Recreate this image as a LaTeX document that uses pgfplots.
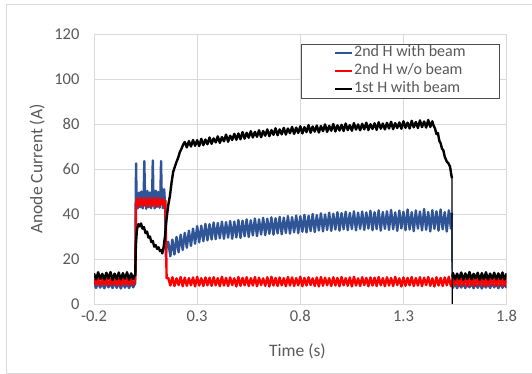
\documentclass[border=0pt]{standalone}
\usepackage{fontspec}
\setmainfont{Carlito}
\usepackage{pgfplots}
\pgfplotsset{compat=1.18}
\definecolor{exblue}{RGB}{47,85,151}
\definecolor{gridgray}{RGB}{217,217,217}
\definecolor{txtgray}{RGB}{89,89,89}
\begin{document}
\begin{tikzpicture}
\path[use as bounding box] (0,0) rectangle (532pt,374pt);
\draw[gridgray, line width=0.8pt] (6pt,0.5pt) rectangle (545pt,370pt);
\begin{axis}[
 at={(94pt,70pt)}, anchor=south west,
 scale only axis, width=412.6pt, height=270pt,
 xmin=-0.2, xmax=1.8, ymin=0, ymax=120,
 xtick={-0.2,0.3,0.8,1.3,1.8}, ytick={0,20,...,120},
 grid=major, major grid style={gridgray, line width=0.8pt},
 axis line style={gridgray, line width=0.8pt},
 major tick length=0pt,
 /pgf/number format/assume math mode=true,
 tick label style={font=\fontsize{16.5}{19}\selectfont, text=txtgray},
 x tick label style={/pgf/number format/.cd, fixed, fixed zerofill, precision=1, /tikz/.cd},
 y tick label style={xshift=-11pt},
 x tick label style={yshift=-3pt},
 xlabel={Time (s)}, ylabel={Anode Current (A)},
 label style={font=\fontsize{17.5}{20}\selectfont, text=txtgray},
 xlabel style={at={(axis description cs:0.493,-0.1767)}, anchor=center},
 ylabel style={at={(axis description cs:-0.1374,0.5)}, anchor=center},
 legend cell align=left,
 legend image code/.code={\draw[#1, line width=2pt, line cap=butt] (0pt,0pt) -- (17pt,0pt);},
 legend style={at={(axis description cs:0.5024,0.963)}, anchor=north west,
   draw=black!70, line width=0.8pt, fill=white,
   font=\fontsize{16}{18}\selectfont,
   inner xsep=32.5pt, inner ysep=0pt, row sep=0pt, column sep=0pt,
   nodes={inner xsep=1pt, inner ysep=0pt, text height=12.5pt, text depth=5.5pt}},
]
% 2nd H with beam
\addplot[draw=exblue, line width=2.4pt, line join=round, mark=none] coordinates {
(-0.20,9.4)(-0.19,7.1)(-0.18,9.6)(-0.17,7.3)(-0.16,9.2)(-0.15,7.0)(-0.14,9.5)(-0.13,7.4)(-0.12,9.3)(-0.11,7.1)
(-0.10,9.7)(-0.09,7.2)(-0.08,9.4)(-0.07,6.9)(-0.06,9.5)(-0.05,7.3)(-0.04,9.2)(-0.03,7.1)(-0.02,9.6)(-0.01,7.4)(0.00,9.3)
(0.002,44)(0.004,62.5)(0.006,48)(0.012,42.5)(0.018,49.5)(0.024,43)(0.030,50)(0.036,42.5)(0.041,49)(0.044,63.5)
(0.047,48)(0.053,42.3)(0.059,50.2)(0.065,43)(0.071,49.6)(0.077,42.6)(0.082,49)(0.085,63.8)(0.088,48)(0.094,42.5)
(0.100,50.3)(0.106,43.2)(0.112,49.8)(0.118,42.8)(0.122,49)(0.125,63.5)(0.128,49)(0.134,42.6)(0.140,51)(0.145,43)
(0.148,21)(0.152,27)
(0.16,27.6)(0.17,21.2)(0.18,28.6)(0.19,22.0)(0.20,29.8)(0.21,23.0)(0.22,30.8)(0.23,24.0)(0.24,31.6)(0.25,25.0)
(0.26,32.6)(0.27,25.8)(0.28,33.5)(0.29,26.8)(0.30,34.6)(0.31,27.4)(0.32,34.8)(0.33,27.9)(0.34,35.6)(0.35,28.3)
(0.36,35.5)(0.37,28.7)(0.38,36.2)(0.39,28.8)(0.40,36.0)(0.41,29.2)(0.42,36.6)(0.43,29.0)(0.44,36.4)(0.45,29.5)
(0.46,36.9)(0.47,29.0)(0.48,36.6)(0.49,29.6)(0.50,37.3)(0.51,29.4)(0.52,37.0)(0.53,30.1)(0.54,37.6)(0.55,29.8)
(0.56,37.2)(0.57,30.5)(0.58,38.0)(0.59,30.2)(0.60,37.6)(0.61,30.9)(0.62,38.3)(0.63,30.6)(0.64,37.9)(0.65,31.2)
(0.66,38.5)(0.67,30.8)(0.68,38.1)(0.69,31.4)(0.70,38.7)(0.71,31.0)(0.72,38.4)(0.73,31.6)(0.74,39.1)(0.75,31.3)
(0.76,38.6)(0.77,31.9)(0.78,39.3)(0.79,31.5)(0.80,39.0)(0.81,32.1)(0.82,39.6)(0.83,31.8)(0.84,39.2)(0.85,32.4)
(0.86,40.0)(0.87,32.0)(0.88,39.5)(0.89,32.7)(0.90,40.3)(0.91,32.3)(0.92,39.8)(0.93,32.9)(0.94,40.6)(0.95,32.5)
(0.96,40.1)(0.97,33.1)(0.98,40.8)(0.99,32.6)(1.00,40.4)(1.01,33.2)(1.02,41.0)(1.03,32.8)(1.04,40.5)(1.05,33.3)
(1.06,41.2)(1.07,32.7)(1.08,40.6)(1.09,33.4)(1.10,41.1)(1.11,32.9)(1.12,40.7)(1.13,33.5)(1.14,41.4)(1.15,32.8)
(1.16,40.8)(1.17,33.3)(1.18,41.6)(1.19,32.6)(1.20,40.9)(1.21,33.4)(1.22,41.2)(1.23,32.9)(1.24,41.8)(1.25,33.2)
(1.26,40.7)(1.27,32.5)(1.28,41.5)(1.29,33.6)(1.30,41.0)(1.31,32.8)(1.32,42.0)(1.33,33.1)(1.34,40.8)(1.35,32.4)
(1.36,41.6)(1.37,33.5)(1.38,41.1)(1.39,32.7)(1.40,42.2)(1.41,33.0)(1.42,40.9)(1.43,32.3)(1.44,41.7)(1.45,33.4)
(1.46,41.2)(1.47,32.6)(1.48,42.0)(1.49,33.2)(1.50,40.8)(1.51,32.2)(1.52,41.6)(1.53,33.5)(1.535,40.5)
};
\addlegendentry{\textcolor{txtgray}{2nd H with beam}}
\addplot[forget plot, draw=exblue, line width=1.2pt, mark=none] coordinates {(1.535,40.5)(1.536,9.0)};
\addplot[forget plot, draw=exblue, line width=2.4pt, line join=round, mark=none] coordinates {
(1.536,9.0)(1.54,7.2)(1.55,9.4)(1.56,7.0)(1.57,9.6)(1.58,7.3)(1.59,9.2)(1.60,7.1)(1.61,9.5)(1.62,7.4)(1.63,9.3)
(1.64,7.0)(1.65,9.7)(1.66,7.2)(1.67,9.4)(1.68,6.9)(1.69,9.5)(1.70,7.3)(1.71,9.2)(1.72,7.1)(1.73,9.6)
(1.74,7.4)(1.75,9.3)(1.76,7.0)(1.77,9.5)(1.78,7.2)(1.79,9.4)(1.80,7.1)
};
% 2nd H w/o beam
\addplot[draw=red, line width=2.4pt, line join=round, mark=none] coordinates {
(-0.20,11.2)(-0.19,8.5)(-0.18,11.5)(-0.17,8.3)(-0.16,11.1)(-0.15,8.6)(-0.14,11.4)(-0.13,8.2)(-0.12,11.3)(-0.11,8.5)
(-0.10,11.6)(-0.09,8.4)(-0.08,11.2)(-0.07,8.1)(-0.06,11.5)(-0.05,8.6)(-0.04,11.1)(-0.03,8.3)(-0.02,11.4)(-0.01,8.5)(0.00,11.0)
(0.004,44)(0.01,47.0)(0.02,43.4)(0.03,47.2)(0.04,43.6)(0.05,46.9)(0.06,43.3)(0.07,47.3)(0.08,43.5)(0.09,47.0)
(0.10,43.2)(0.11,47.2)(0.12,43.6)(0.13,46.8)(0.14,43.4)(0.146,46)(0.152,11.5)
(0.16,11.6)(0.17,8.2)(0.18,11.9)(0.19,8.0)(0.20,11.4)(0.21,8.4)(0.22,12.0)(0.23,7.9)(0.24,11.7)(0.25,8.1)
(0.26,11.5)(0.27,8.3)(0.28,11.8)(0.29,7.8)(0.30,12.1)(0.31,8.2)(0.32,11.5)(0.33,8.0)(0.34,11.8)(0.35,8.3)
(0.36,11.7)(0.37,8.1)(0.38,11.9)(0.39,8.3)(0.40,11.5)(0.41,7.9)(0.42,12.1)(0.43,8.2)(0.44,11.6)(0.45,8.0)
(0.46,11.8)(0.47,8.4)(0.48,11.4)(0.49,7.8)(0.50,12.0)(0.51,8.1)(0.52,11.6)(0.53,8.3)(0.54,11.9)(0.55,8.0)
(0.56,11.5)(0.57,8.2)(0.58,12.0)(0.59,7.9)(0.60,11.7)(0.61,8.4)(0.62,11.4)(0.63,8.1)(0.64,11.9)(0.65,7.8)
(0.66,12.1)(0.67,8.2)(0.68,11.6)(0.69,8.0)(0.70,11.8)(0.71,8.3)(0.72,11.5)(0.73,7.9)(0.74,12.0)(0.75,8.2)
(0.76,11.8)(0.77,8.0)(0.78,11.5)(0.79,8.3)(0.80,12.1)(0.81,7.9)(0.82,11.6)(0.83,8.2)(0.84,11.9)(0.85,8.4)
(0.86,11.4)(0.87,8.0)(0.88,11.8)(0.89,7.8)(0.90,12.0)(0.91,8.1)(0.92,11.7)(0.93,8.3)(0.94,11.5)(0.95,8.0)
(0.96,11.9)(0.97,8.2)(0.98,11.6)(0.99,7.9)(1.00,12.0)(1.01,8.3)(1.02,11.5)(1.03,8.1)(1.04,11.8)(1.05,7.8)
(1.06,12.1)(1.07,8.2)(1.08,11.4)(1.09,8.0)(1.10,11.9)(1.11,8.4)(1.12,11.6)(1.13,7.9)(1.14,11.8)(1.15,8.2)
(1.16,11.7)(1.17,8.0)(1.18,12.0)(1.19,8.3)(1.20,11.5)(1.21,7.9)(1.22,11.9)(1.23,8.2)(1.24,11.6)(1.25,8.0)
(1.26,12.1)(1.27,8.4)(1.28,11.4)(1.29,7.8)(1.30,11.8)(1.31,8.1)(1.32,11.6)(1.33,8.3)(1.34,12.0)(1.35,8.0)
(1.36,11.5)(1.37,8.2)(1.38,11.9)(1.39,7.9)(1.40,11.7)(1.41,8.4)(1.42,12.0)(1.43,8.1)(1.44,11.4)(1.45,7.8)
(1.46,11.9)(1.47,8.2)(1.48,11.6)(1.49,8.0)(1.50,11.8)(1.51,8.3)(1.52,12.1)(1.53,7.9)(1.54,11.5)(1.55,8.2)
(1.56,11.8)(1.57,8.0)(1.58,11.5)(1.59,8.3)(1.60,12.0)(1.61,7.9)(1.62,11.7)(1.63,8.2)(1.64,11.4)(1.65,8.0)
(1.66,11.9)(1.67,8.4)(1.68,11.6)(1.69,7.8)(1.70,12.0)(1.71,8.1)(1.72,11.5)(1.73,8.3)(1.74,11.8)(1.75,8.0)
(1.76,11.6)(1.77,8.2)(1.78,11.9)(1.79,8.0)(1.80,11.4)
};
\addlegendentry{\textcolor{txtgray}{2nd H w/o beam}}
% 1st H with beam
\addplot[draw=black, line width=2.4pt, line join=round, mark=none] coordinates {
(-0.20,13.6)(-0.19,10.9)(-0.18,14.1)(-0.17,11.2)(-0.16,13.4)(-0.15,10.8)(-0.14,13.9)(-0.13,11.3)(-0.12,14.2)(-0.11,10.7)
(-0.10,13.5)(-0.09,11.0)(-0.08,14.0)(-0.07,10.9)(-0.06,13.7)(-0.05,11.2)(-0.04,14.1)(-0.03,10.8)(-0.02,13.6)(-0.01,11.1)(0.00,13.3)
(0.003,26)(0.008,33)(0.015,35.5)(0.022,34.5)(0.028,35.8)(0.035,33.5)(0.042,34.2)(0.050,31.5)(0.057,32.2)(0.064,29.5)
(0.071,30)(0.078,27.5)(0.085,28)(0.092,25.5)(0.099,26.2)(0.106,24.5)(0.113,25.2)(0.120,23.5)(0.127,24)(0.131,22.5)
(0.137,25)(0.144,30)(0.152,38)(0.160,44)(0.168,48)(0.176,54)(0.184,58.8)(0.192,61)(0.200,63.2)(0.208,65)
(0.216,67.5)(0.224,69)(0.232,70.8)
(0.24,72.0)(0.25,69.6)(0.26,72.4)(0.27,70.0)(0.28,72.9)(0.29,70.3)(0.30,72.8)(0.31,70.2)(0.32,73.4)(0.33,70.6)
(0.34,73.1)(0.35,71.0)(0.36,74.0)(0.37,71.2)(0.38,73.6)(0.39,71.8)(0.40,74.5)(0.41,71.6)(0.42,74.2)(0.43,72.3)
(0.44,75.3)(0.45,72.1)(0.46,74.8)(0.47,72.9)(0.48,75.6)(0.49,73.0)(0.50,75.8)(0.51,73.2)(0.52,76.4)(0.53,73.5)
(0.54,76.1)(0.55,73.9)(0.56,76.8)(0.57,74.0)(0.58,76.5)(0.59,74.3)(0.60,77.2)(0.61,74.1)(0.62,76.9)(0.63,74.8)
(0.64,77.6)(0.65,74.6)(0.66,77.3)(0.67,75.2)(0.68,78.1)(0.69,75.0)(0.70,77.6)(0.71,75.4)(0.72,78.3)(0.73,75.3)
(0.74,78.0)(0.75,75.9)(0.76,78.7)(0.77,75.6)(0.78,78.4)(0.79,76.0)(0.80,79.0)(0.81,75.8)(0.82,78.6)(0.83,76.4)
(0.84,79.5)(0.85,76.1)(0.86,78.9)(0.87,76.6)(0.88,79.3)(0.89,76.2)(0.90,79.1)(0.91,76.8)(0.92,79.8)(0.93,76.5)
(0.94,79.2)(0.95,77.0)(0.96,80.0)(0.97,76.7)(0.98,79.4)(0.99,77.1)(1.00,79.6)(1.01,76.9)(1.02,80.2)(1.03,77.3)
(1.04,79.5)(1.05,77.0)(1.06,80.4)(1.07,77.5)(1.08,79.8)(1.09,77.2)(1.10,80.1)(1.11,77.6)(1.12,80.6)(1.13,77.3)
(1.14,79.9)(1.15,77.8)(1.16,80.3)(1.17,77.4)(1.18,80.8)(1.19,77.9)(1.20,80.2)(1.21,77.6)(1.22,80.5)(1.23,78.0)
(1.24,81.0)(1.25,77.7)(1.26,80.4)(1.27,78.2)(1.28,80.7)(1.29,77.9)(1.30,81.2)(1.31,78.3)(1.32,80.6)(1.33,78.0)
(1.34,81.4)(1.35,78.5)(1.36,80.9)(1.37,78.2)(1.38,81.6)(1.39,78.6)(1.40,81.1)(1.41,78.4)(1.42,81.8)(1.43,78.7)
(1.44,81.2)(1.445,79.5)(1.453,78)(1.460,75.5)(1.467,76)(1.474,72.5)(1.480,71.5)(1.487,69)(1.493,68.4)(1.500,65.5)
(1.510,63.3)(1.518,62.5)(1.526,61)(1.531,58)(1.535,55.9)
};
\addlegendentry{\textcolor{txtgray}{1st H with beam}}
\addplot[forget plot, draw=black, line width=1.2pt, mark=none] coordinates {(1.535,55.9)(1.5362,0)(1.5375,12)};
\addplot[forget plot, draw=black, line width=2.4pt, line join=round, mark=none] coordinates {
(1.5375,12)(1.54,13.8)(1.55,10.9)(1.56,13.5)(1.57,11.2)(1.58,14.0)(1.59,10.8)(1.60,13.6)(1.61,11.1)(1.62,14.2)(1.63,10.9)
(1.64,13.4)(1.65,11.3)(1.66,13.9)(1.67,10.7)(1.68,13.7)(1.69,11.0)(1.70,14.1)(1.71,10.8)(1.72,13.5)(1.73,11.2)
(1.74,13.9)(1.75,10.9)(1.76,13.6)(1.77,11.1)(1.78,14.0)(1.79,10.8)(1.80,13.6)
};
\end{axis}
\end{tikzpicture}
\end{document}
